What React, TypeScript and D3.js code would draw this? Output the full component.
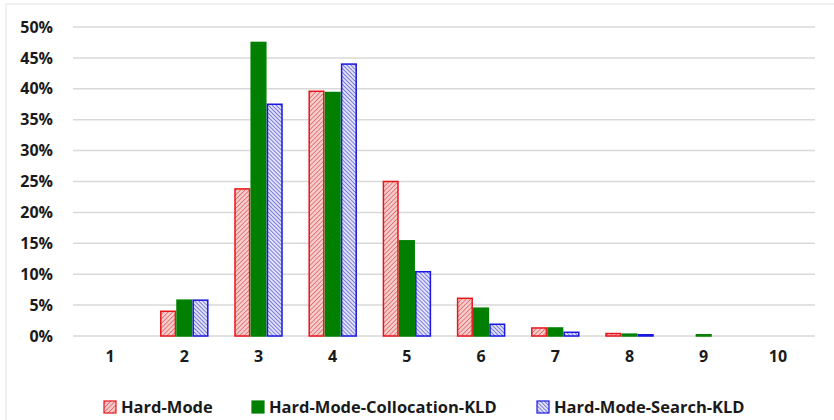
import React from "react";
import * as d3 from "d3";

const categories = ["1", "2", "3", "4", "5", "6", "7", "8", "9", "10"];
const seriesNames = ["Hard-Mode", "Hard-Mode-Collocation-KLD", "Hard-Mode-Search-KLD"];
const hardMode = [0, 4.0, 23.8, 39.6, 25.0, 6.1, 1.3, 0.4, 0, 0];
const collocation = [0, 5.8, 47.5, 39.4, 15.4, 4.5, 1.3, 0.3, 0.2, 0];
const searchKld = [0, 5.8, 37.5, 44.0, 10.4, 1.9, 0.6, 0.2, 0, 0];
const yTicks = [0, 5, 10, 15, 20, 25, 30, 35, 40, 45, 50];

const W = 834, H = 420;
const FONT = "'Open Sans', 'Liberation Sans', sans-serif";

export default function App() {
  const x = d3.scaleBand().domain(categories).range([73, 815]);
  const inner = d3.scaleBand().domain(seriesNames).range([0, 47]).paddingInner(0.1);
  const y = d3.scaleLinear().domain([0, 50]).range([336, 27]);
  const data = [hardMode, collocation, searchKld];
  const fills = ["url(#hatchRed)", "#007f00", "url(#hatchBlue)"];
  const strokes = ["#e8141c", "#007f00", "#1818e0"];
  const legendX = [104, 252, 537];
  return (
    <svg width={W} height={H} style={{ position: "absolute", left: 0, top: 0, background: "#fff" }}>
      <defs>
        <pattern id="hatchRed" patternUnits="userSpaceOnUse" width="3.2" height="3.2" patternTransform="rotate(45)">
          <rect width="3.2" height="3.2" fill="#f5cccc" />
          <line x1="0" y1="0" x2="0" y2="3.2" stroke="#e05050" strokeWidth="1.3" />
        </pattern>
        <pattern id="hatchBlue" patternUnits="userSpaceOnUse" width="2.8" height="2.8" patternTransform="rotate(-45)">
          <rect width="2.8" height="2.8" fill="#e2e2f8" />
          <line x1="0" y1="0" x2="0" y2="2.8" stroke="#3a3ad0" strokeWidth="1.2" />
        </pattern>
      </defs>
      <rect x={6} y={4} width={840} height={430} fill="#fff" stroke="#e3e3e3" strokeWidth={1} />
      {yTicks.map((t) => (
        <g key={t}>
          <line x1={73} x2={815} y1={y(t)} y2={y(t)} stroke="#d9d9d9" strokeWidth={1.5} />
          <text x={53} y={y(t)} dy="0.35em" textAnchor="end" fontFamily={FONT} fontWeight={700} fontSize={16} fill="#1a1a1a">
            {t}%
          </text>
        </g>
      ))}
      {data.map((vals, si) => (
        <g key={si}>
          {vals.map((v, ci) => {
            if (v <= 0) return null;
            const bx = (x(categories[ci]) as number) + (x.bandwidth() - 47) / 2 + (inner(seriesNames[si]) as number);
            const by = y(v);
            return (
              <rect key={ci} x={bx} y={by} width={inner.bandwidth()} height={y(0) - by}
                fill={fills[si]} stroke={strokes[si]} strokeWidth={1.5} />
            );
          })}
        </g>
      ))}
      {categories.map((c) => (
        <text key={c} x={(x(c) as number) + x.bandwidth() / 2} y={362} textAnchor="middle" fontFamily={FONT} fontWeight={700} fontSize={16} fill="#1a1a1a">
          {c}
        </text>
      ))}
      {seriesNames.map((n, i) => (
        <g key={n}>
          <rect x={legendX[i]} y={401} width={12} height={12} fill={fills[i]} stroke={strokes[i]} strokeWidth={1.2} />
          <text x={legendX[i] + 17} y={407} dy="0.35em" fontFamily={FONT} fontWeight={700} fontSize={16.5} fill="#1a1a1a">
            {n}
          </text>
        </g>
      ))}
    </svg>
  );
}
